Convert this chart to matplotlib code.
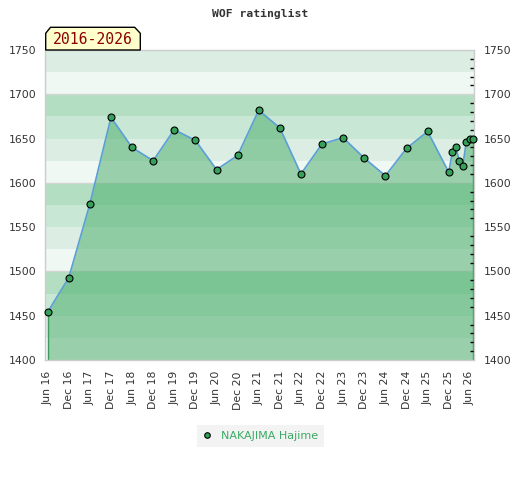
import numpy as np
import matplotlib
matplotlib.use("Agg")
import matplotlib.pyplot as plt
import matplotlib.dates as mdates
from matplotlib.patches import Polygon
from matplotlib.ticker import MultipleLocator

# rating list dates and ratings
DATES = np.array(["2016-06-01", "2016-12-01", "2017-06-01", "2017-12-01", "2018-06-01",
                  "2018-12-01", "2019-06-01", "2019-12-01", "2020-06-01", "2020-12-01",
                  "2021-06-01", "2021-12-01", "2022-06-01", "2022-12-01", "2023-06-01",
                  "2023-12-01", "2024-06-01", "2024-12-01", "2025-06-01", "2025-12-01",
                  "2026-01-01", "2026-02-01", "2026-03-01", "2026-04-01", "2026-05-01",
                  "2026-06-01", "2026-07-01"], dtype="datetime64[D]")
RATING = [1454, 1493, 1576, 1674, 1640, 1625, 1660, 1648, 1615, 1631,
          1682, 1662, 1610, 1644, 1651, 1628, 1608, 1639, 1658, 1612,
          1635, 1640, 1625, 1619, 1646, 1649, 1649]
PLAYER = "NAKAJIMA Hajime"
TITLE = "WOF ratinglist"
BADGE = "2016-2026"
Y_MIN, Y_MAX = 1400, 1750

W, H = 520, 480
fig = plt.figure(figsize=(W / 100, H / 100), dpi=100)


def px(x, y):
    return x / W, 1 - y / H


ax = fig.add_axes([45.3 / W, 1 - 360 / H, (474.3 - 45.3) / W, 310 / H])

# banded background: 4 shades per 100 points, darkest on top
shades = ["#f0f8f3", "#dceee3", "#c8e7d4", "#b3dec2"]
for lo in range(Y_MIN, Y_MAX, 25):
    ax.axhspan(lo, lo + 25, color=shades[(lo % 100) // 25], lw=0, zorder=0)
for g in range(Y_MIN + 100, Y_MAX, 100):
    ax.axhline(g, color="#d4d4d4", lw=1, zorder=0.5)

x = DATES.astype("datetime64[s]").astype(object)
y = np.array(RATING)
ax.fill_between(x, Y_MIN, y, color="#49ad69", alpha=0.52, lw=0, zorder=1)
ax.vlines([x[0], x[-1]], Y_MIN, [y[0], y[-1]], color="#3d9c5c", lw=1, zorder=1.5)
ax.plot(x, y, color="#5a9fd6", lw=1.2, zorder=2)
ax.plot(x, y, ls="none", marker="o", ms=5, mfc="#35a05a", mec="black", mew=0.8,
        zorder=3, clip_on=False, label=PLAYER)

ax.set_ylim(Y_MIN, Y_MAX)
ax.set_xlim(np.datetime64("2016-05-12"), np.datetime64("2026-07-10"))

ax.xaxis.set_major_locator(mdates.MonthLocator(bymonth=[6, 12]))
ax.xaxis.set_major_formatter(mdates.DateFormatter("%b %y"))
ax.yaxis.set_major_locator(MultipleLocator(50))
ax.yaxis.set_minor_locator(MultipleLocator(10))

ax.tick_params(axis="x", length=0, pad=8, labelsize=7.8, labelcolor="#333333",
               labelrotation=90)
ax.tick_params(axis="y", which="major", length=0, labelsize=7.8, labelcolor="#333333",
               left=False, right=False, labelleft=True, labelright=True, pad=6.5)
ax.tick_params(axis="y", which="minor", left=False, right=True, direction="in",
               length=3, width=1, color="black")
for lab in ax.get_yticklabels():
    lab.set_fontfamily("DejaVu Sans")
for s in ax.spines.values():
    s.set_color("#cccccc")
    s.set_linewidth(1)

fig.text(*px(260.5, 13.5), TITLE, ha="center", va="center", fontsize=8.2,
         fontweight="bold", family="DejaVu Sans Mono", color="#333333")

# badge with chamfered top corners
badge = Polygon([px(45.7, 50), px(45.7, 33.3), px(50.5, 27.3), px(134.7, 27.3),
                 px(140.3, 33.3), px(140.3, 50)], closed=True, transform=fig.transFigure,
                facecolor="#ffffcc", edgecolor="black", lw=1, zorder=5)
fig.add_artist(badge)
fig.text(*px(92.5, 40), BADGE, ha="center", va="center", fontsize=10.6,
         family="DejaVu Sans Mono", color="#8b0000", zorder=6)

leg = fig.legend(loc="center", bbox_to_anchor=px(260.5, 436), fontsize=8,
                 frameon=True, fancybox=False, handlelength=0.8, handletextpad=0.8,
                 borderpad=0.5, markerscale=0.8)
leg.get_frame().set_facecolor("#f0f0f0")
leg.get_frame().set_edgecolor("none")
for t in leg.get_texts():
    t.set_color("#3aaa64")

fig.savefig("out.png", dpi=100)
